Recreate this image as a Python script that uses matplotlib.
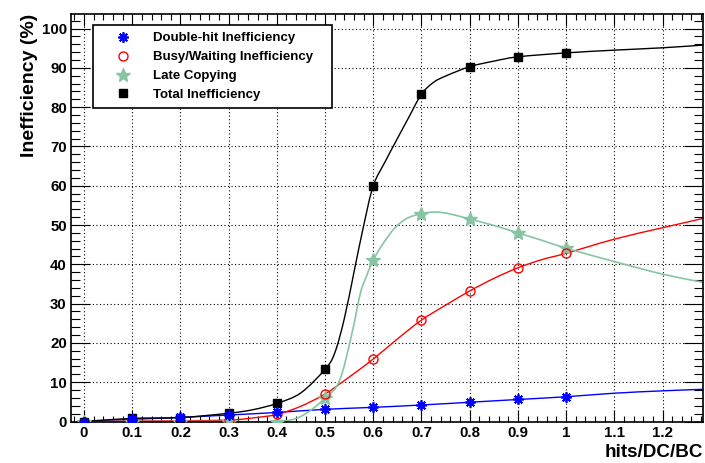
import matplotlib
matplotlib.use("Agg")
import matplotlib.pyplot as plt
import numpy as np
from matplotlib.path import Path
from matplotlib.patches import PathPatch
from matplotlib.ticker import MultipleLocator, FuncFormatter

plt.rcParams["font.family"] = ["Liberation Sans", "DejaVu Sans"]
plt.rcParams["font.weight"] = "bold"

# ---- measured points (markers) ----
x_pts = [0.0, 0.1, 0.2, 0.3, 0.4, 0.5, 0.6, 0.7, 0.8, 0.9, 1.0]
double_hit = [0.0, 0.55, 1.05, 1.65, 2.3, 3.1, 3.6, 4.2, 4.9, 5.6, 6.3]
busy = [0.0, 0.1, 0.2, 0.3, 1.8, 7.0, 15.9, 25.8, 33.2, 39.1, 42.8]
late = [0.0, 0.0, 0.0, 0.0, 0.0, 5.9, 41.1, 52.7, 51.5, 48.0, 44.1]
total = [0.0, 0.8, 1.0, 2.1, 4.6, 13.3, 60.0, 83.3, 90.3, 92.8, 93.8]

# ---- curve knots ----
dh_cx = [0.0, 0.1, 0.2, 0.3, 0.4, 0.5, 0.6, 0.7, 0.8, 0.9, 1.0, 1.1, 1.2, 1.285]
dh_cy = [0.0, 0.55, 1.05, 1.65, 2.3, 3.1, 3.6, 4.2, 4.9, 5.6, 6.3, 7.2, 7.8, 8.2]

busy_cx = [0.0, 0.1, 0.2, 0.3, 0.35, 0.4, 0.45, 0.5, 0.55, 0.6, 0.65, 0.7,
           0.75, 0.8, 0.85, 0.9, 0.95, 1.0, 1.1, 1.2, 1.285]
busy_cy = [0.0, 0.1, 0.2, 0.35, 0.9, 1.8, 3.9, 7.0, 11.3, 15.9, 21.0, 25.8,
           29.6, 33.2, 36.4, 39.1, 41.2, 42.8, 46.4, 49.3, 51.7]

late_cx = [0.0, 0.1, 0.2, 0.3, 0.4, 0.45, 0.5, 0.53, 0.555, 0.573, 0.586,
           0.6, 0.62, 0.645, 0.67, 0.7, 0.73, 0.76, 0.8, 0.85, 0.9, 0.95,
           1.0, 1.1, 1.2, 1.285]
late_cy = [0.0, 0.0, 0.0, 0.0, 0.0, 1.3, 5.9, 10.4, 22.0, 32.5, 37.0,
           41.1, 45.2, 49.3, 51.7, 52.9, 53.3, 52.8, 51.5, 49.9, 48.0, 46.1,
           44.1, 40.7, 37.5, 35.4]

tot_cx = [0.0, 0.1, 0.2, 0.3, 0.35, 0.4, 0.45, 0.5, 0.52, 0.54, 0.56,
          0.58, 0.6, 0.625, 0.65, 0.675, 0.7, 0.725, 0.75, 0.8, 0.85,
          0.9, 1.0, 1.1, 1.2, 1.285]
tot_cy = [0.0, 0.8, 1.0, 2.1, 3.0, 4.6, 7.3, 13.3, 17.4, 26.2, 38.0,
          49.8, 60.0, 66.2, 72.0, 77.7, 83.3, 86.3, 87.9, 90.3, 91.7,
          92.8, 93.8, 94.5, 95.1, 95.8]

labels = ["Double-hit Inefficiency", "Busy/Waiting Inefficiency",
          "Late Copying", "Total Inefficiency"]

green = "#88c4a4"


def smooth_path(xs, ys):
    # Catmull-Rom through the knots, handed to matplotlib as Bezier segments
    p = np.column_stack([xs, ys])
    p = np.vstack([p[0], p, p[-1]])
    verts = [p[1]]
    codes = [Path.MOVETO]
    for i in range(1, len(p) - 2):
        c1 = p[i] + (p[i + 1] - p[i - 1]) / 6
        c2 = p[i + 1] - (p[i + 2] - p[i]) / 6
        verts += [c1, c2, p[i + 1]]
        codes += [Path.CURVE4] * 3
    return Path(verts, codes)


fig = plt.figure(figsize=(7.05, 4.63), dpi=100)
ax = fig.add_axes([71 / 705, 1 - 421.5 / 463, 632 / 705, 407.5 / 463])

ax.grid(True, which="major", color="black", ls=(0, (1, 2.2)), lw=0.8)
ax.set_axisbelow(True)

for cx, cy, col, lw in [(dh_cx, dh_cy, "blue", 1.0),
                        (busy_cx, busy_cy, "red", 1.0),
                        (late_cx, late_cy, green, 1.2),
                        (tot_cx, tot_cy, "black", 1.0)]:
    ax.add_patch(PathPatch(smooth_path(cx, cy), fc="none", ec=col, lw=lw,
                           zorder=2))

ax.plot(x_pts, late, ls="none", marker="*", ms=10, color=green, mec=green,
        label=labels[2], zorder=3)
ax.plot(x_pts, busy, ls="none", marker="o", ms=6.5, mfc="none", mec="red",
        mew=1.0, label=labels[1], zorder=3)
ax.plot(x_pts, total, ls="none", marker="s", ms=5.5, color="black",
        label=labels[3], zorder=3)
ax.plot(x_pts, double_hit, ls="none", marker=(8, 2, 0), ms=7.5, mec="blue",
        mew=1.3, label=labels[0], zorder=4)

ax.set_xlim(-0.027, 1.284)
ax.set_ylim(0, 103.7)

ax.xaxis.set_major_locator(MultipleLocator(0.1))
ax.xaxis.set_minor_locator(MultipleLocator(0.02))
ax.yaxis.set_major_locator(MultipleLocator(10))
ax.yaxis.set_minor_locator(MultipleLocator(2))
ax.xaxis.set_major_formatter(FuncFormatter(lambda v, p: f"{v:g}"))

ax.tick_params(which="both", direction="in", top=True, right=True,
               width=0.8, labelsize=10.8)
ax.tick_params(axis="x", which="major", length=8.8, pad=3.5)
ax.tick_params(axis="x", which="minor", length=4.4)
ax.tick_params(axis="y", which="major", length=13.7, pad=3)
ax.tick_params(axis="y", which="minor", length=6.8)
for sp in ax.spines.values():
    sp.set_linewidth(1.2)

ax.set_ylabel("Inefficiency (%)", fontsize=14, fontweight="bold", loc="top")
ax.yaxis.set_label_coords(-0.053, 1.0)
ax.set_xlabel("hits/DC/BC", fontsize=13.6, fontweight="bold", loc="right")
ax.xaxis.set_label_coords(1.0, -0.056)

handles, labs = ax.get_legend_handles_labels()
order = [labs.index(l) for l in labels]
leg = ax.legend([handles[i] for i in order], labels, loc="upper left",
                bbox_to_anchor=(0.0348, 0.973, 0.378, 0.0), mode="expand",
                borderaxespad=0, fancybox=False, edgecolor="black",
                framealpha=1, fontsize=9.5, borderpad=0.55, handlelength=3.45,
                handletextpad=0.55, labelspacing=0.5, numpoints=1)
leg.get_frame().set_linewidth(1.2)

fig.savefig("out.png", dpi=100)
